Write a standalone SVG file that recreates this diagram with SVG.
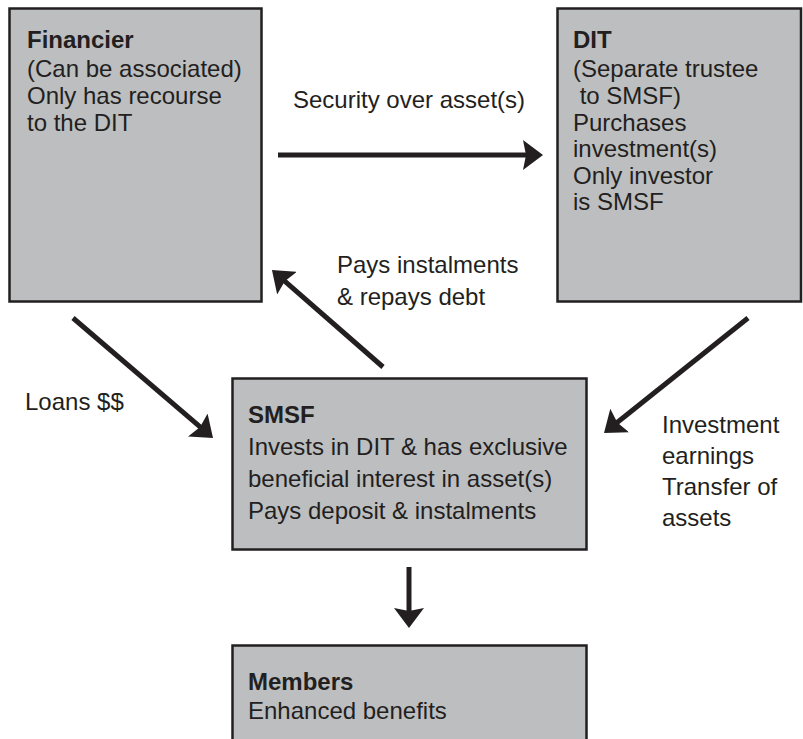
<svg xmlns="http://www.w3.org/2000/svg" width="803" height="739" viewBox="0 0 803 739">
<style>
.box{fill:#bcbec0;stroke:#231f20;stroke-width:2.5}
text{font-family:"Liberation Sans",Arial,sans-serif;font-size:24px;fill:#231f20}
.t{font-weight:bold}
.c{stroke:#231f20;stroke-width:5;fill:none;marker-end:url(#ah)}
</style>
<defs>
<marker id="ah" markerUnits="userSpaceOnUse" viewBox="0 0 20 30" markerWidth="20" markerHeight="30" refX="8" refY="15" orient="auto">
<path d="M0,0 L20,15 L0,30 L3,15 Z" fill="#231f20"/>
</marker>
</defs>
<rect width="803" height="739" fill="#ffffff"/>
<g id="connectors">
<line class="c" x1="278" y1="155" x2="531" y2="155"/>
<line class="c" x1="383" y1="367" x2="281" y2="277.9"/>
<line class="c" x1="73" y1="318" x2="203.9" y2="430.2"/>
<line class="c" x1="748" y1="318" x2="613.4" y2="425.5"/>
<line class="c" x1="409" y1="567" x2="409" y2="616"/>
<text x="293" y="108">Security over asset(s)</text>
<text x="337" y="273">Pays instalments</text>
<text x="337" y="305">&amp; repays debt</text>
<text x="25" y="410">Loans $$</text>
<text x="662" y="433">Investment</text>
<text x="662" y="464">earnings</text>
<text x="662" y="495">Transfer of</text>
<text x="662" y="526">assets</text>
</g>
<g id="financier">
<rect class="box" x="9.5" y="8.5" width="252" height="293"/>
<text class="t" x="27" y="48">Financier</text>
<text x="27" y="77">(Can be associated)</text>
<text x="27" y="104">Only has recourse</text>
<text x="27" y="130.5">to the DIT</text>
</g>
<g id="dit">
<rect class="box" x="557.5" y="8.5" width="243.5" height="293"/>
<text class="t" x="573" y="48">DIT</text>
<text x="573" y="77">(Separate trustee</text>
<text x="573" y="104" xml:space="preserve"> to SMSF)</text>
<text x="573" y="130.5">Purchases</text>
<text x="573" y="157">investment(s)</text>
<text x="573" y="183.5">Only investor</text>
<text x="573" y="210">is SMSF</text>
</g>
<g id="smsf">
<rect class="box" x="232.5" y="378.5" width="354" height="171"/>
<text class="t" x="248" y="423">SMSF</text>
<text x="248" y="455">Invests in DIT &amp; has exclusive</text>
<text x="248" y="487">beneficial interest in asset(s)</text>
<text x="248" y="519">Pays deposit &amp; instalments</text>
</g>
<g id="members">
<rect class="box" x="232.5" y="645.5" width="354" height="120"/>
<text class="t" x="248" y="690">Members</text>
<text x="248" y="719">Enhanced benefits</text>
</g>
</svg>
